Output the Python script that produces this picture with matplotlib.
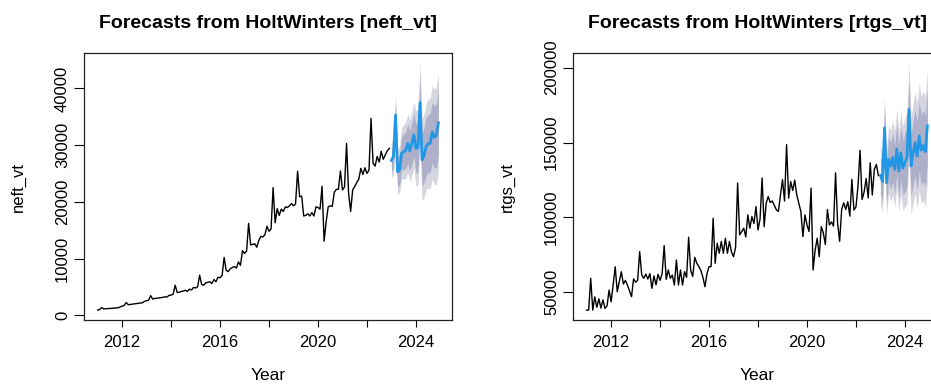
import numpy as np
import matplotlib.pyplot as plt

# monthly observations, Jan 2011 - Dec 2022
neft_vt = [
    900, 1000, 1350, 1100, 1150, 1150, 1200, 1200, 1250, 1300, 1300, 1450,
    1600, 1700, 2250, 1850, 1900, 1950, 2000, 2050, 2100, 2150, 2200, 2450,
    2550, 2650, 3450, 2850, 2950, 3000, 3050, 3100, 3150, 3250, 3200, 3500,
    3550, 3700, 5300, 4000, 4050, 4200, 4250, 4400, 4200, 4600, 4450, 4900,
    4800, 5000, 7050, 5400, 5300, 5700, 5800, 5900, 5600, 6300, 5900, 6700,
    6600, 7000, 10200, 7900, 7700, 8200, 8400, 8600, 8300, 9400, 8800, 11400,
    10900, 11300, 16200, 12400, 12500, 12600, 12000, 13200, 13900, 13800, 14200, 15700,
    14800, 15200, 22500, 16300, 18800, 17600, 18700, 18300, 19100, 19000, 19300, 19700,
    19300, 19600, 25400, 20900, 21000, 17500, 17600, 17900, 17500, 18100, 17500, 19100,
    19000, 18700, 22750, 13050, 16500, 19100, 19300, 19200, 21700, 22200, 22200, 25450,
    22100, 22600, 30300, 21500, 18300, 22100, 22700, 23400, 24000, 25900, 24800, 26000,
    25000, 25600, 34700, 26800, 26300, 28000, 27000, 28900, 27500, 28300, 29000, 29450,
]
rtgs_vt = [
    38150, 38150, 59400, 38150, 47000, 40000, 45700, 39500, 45000, 39300, 41000, 51500,
    43700, 55000, 67100, 50400, 57000, 63800, 55600, 58000, 54900, 51000, 47100, 59000,
    56800, 58000, 77200, 61600, 59400, 62200, 58900, 62500, 52700, 61000, 55000, 62000,
    58000, 62500, 81200, 58700, 65000, 59400, 61500, 54900, 71600, 54900, 65000, 54900,
    63800, 60000, 86800, 64600, 60600, 73400, 69400, 67200, 64600, 60000, 53750, 62600,
    67200, 67200, 99500, 69400, 82800, 76100, 84000, 76100, 86100, 76100, 84000, 77000,
    73800, 80000, 123000, 88400, 90600, 92800, 87000, 101700, 92800, 100600, 96000, 107300,
    91700, 99000, 126300, 93900, 109600, 114000, 110000, 111000, 108000, 105100, 104000, 115000,
    125200, 111000, 148600, 112900, 124000, 118000, 124900, 115000, 109600, 104000, 87200, 101700,
    95000, 90600, 119600, 64900, 78300, 86100, 73800, 93900, 89700, 81900, 105300, 95000,
    97000, 94200, 129800, 96400, 84100, 105300, 109800, 105300, 110500, 100900, 125400, 105000,
    107000, 121000, 144800, 112000, 117000, 126000, 113000, 136500, 115000, 132000, 135400, 128000,
]

# HoltWinters point forecasts, Jan 2023 - Dec 2024, and half widths of the 80/95% bands
neft_fc = [27300, 28000, 35300, 25300, 25700, 28600, 28800, 29100, 30300, 29000, 30300, 31800,
           29400, 29600, 37500, 27400, 28200, 29700, 30300, 30300, 32300, 31400, 31700, 33900]
neft_w80 = [1950, 2150, 2350, 2550, 2750, 2950, 3150, 3250, 3400, 3550, 3650, 3800,
            4300, 4450, 4600, 4700, 4850, 5000, 5100, 5250, 5350, 5500, 5600, 5750]
neft_w95 = [3000, 3300, 3600, 3900, 4200, 4500, 4800, 5000, 5200, 5400, 5600, 5800,
            6600, 6800, 7000, 7200, 7400, 7600, 7800, 8000, 8200, 8400, 8600, 8800]

rtgs_fc = [128000, 124000, 159900, 123200, 138800, 134300, 140000, 132000, 145800, 131000, 143000, 133000,
           136500, 140000, 172200, 134300, 143000, 150000, 141000, 154400, 145000, 148000, 144000, 161100]
rtgs_w80 = [12400, 13100, 13700, 14400, 15000, 15500, 16100, 16600, 17000, 17500, 17900, 18300,
            19600, 19900, 20200, 20900, 21500, 22200, 22800, 23200, 23500, 23800, 24200, 24500]
rtgs_w95 = [19000, 20000, 21000, 22000, 23000, 23700, 24600, 25400, 26000, 26800, 27400, 28000,
            30000, 30500, 31000, 32000, 33000, 34000, 35000, 35500, 36000, 36500, 37000, 37500]

start_year = 2011
fc_year = 2023
year_ticks = [2012, 2014, 2016, 2018, 2020, 2022, 2024]
year_labels = ['2012', '', '2016', '', '2020', '', '2024']
neft_ticks = [0, 10000, 20000, 30000, 40000]
rtgs_ticks = [50000, 100000, 150000, 200000]

plt.rcParams['font.family'] = ['Liberation Sans', 'DejaVu Sans']

W, H = 931, 385


def panel(ax, obs, fc, w80, w95, yticks, name):
    obs = np.array(obs, float)
    fc = np.array(fc, float)
    w80 = np.array(w80, float)
    w95 = np.array(w95, float)
    t = start_year + np.arange(len(obs)) / 12
    tf = fc_year + np.arange(len(fc)) / 12

    ax.fill_between(tf, fc - w95, fc + w95, color='#d6d6e0', lw=0)
    ax.fill_between(tf, fc - w80, fc + w80, color='#aeb0ca', lw=0)
    ax.plot(t, obs, color='black', lw=1.0)
    ax.plot(tf, fc, color='#2297E6', lw=2.0)

    # R style limits: data range extended by 4%
    x0, x1 = t[0], tf[-1]
    lo = min(obs.min(), (fc - w95).min())
    hi = max(obs.max(), (fc + w95).max())
    ax.set_xlim(x0 - 0.04 * (x1 - x0), x1 + 0.04 * (x1 - x0))
    ax.set_ylim(lo - 0.04 * (hi - lo), hi + 0.04 * (hi - lo))

    ax.set_xticks(year_ticks)
    ax.set_xticklabels(year_labels)
    ax.set_yticks(yticks)
    ax.set_yticklabels([str(v) for v in yticks], rotation=90, va='center')
    ax.tick_params(axis='x', length=5, width=0.8, pad=6, labelsize=12)
    ax.tick_params(axis='y', length=7, width=0.8, pad=3, labelsize=12)
    for s in ax.spines.values():
        s.set_linewidth(0.9)
        s.set_color('#222222')

    ax.set_xlabel('Year', fontsize=12.5)
    ax.xaxis.set_label_coords(0.5, -(376 - 320) / 267)
    ax.xaxis.label.set_va('center')
    ax.set_ylabel(name, fontsize=12)
    ax.yaxis.set_label_coords(-(84 - 18) / 368, 0.5)
    ax.yaxis.label.set_va('center')
    ax.text(0.5, 1 + (53 - 23) / 267, 'Forecasts from HoltWinters [' + name + ']',
            transform=ax.transAxes, ha='center', va='center',
            fontsize=14, fontweight='bold')


fig = plt.figure(figsize=(W / 100, H / 100), dpi=100)
ax1 = fig.add_axes([84 / W, 1 - 320 / H, 368 / W, 267 / H])
ax2 = fig.add_axes([573 / W, 1 - 320 / H, 368 / W, 267 / H])

panel(ax1, neft_vt, neft_fc, neft_w80, neft_w95, neft_ticks, 'neft_vt')
panel(ax2, rtgs_vt, rtgs_fc, rtgs_w80, rtgs_w95, rtgs_ticks, 'rtgs_vt')

fig.savefig('out.png', dpi=100)
